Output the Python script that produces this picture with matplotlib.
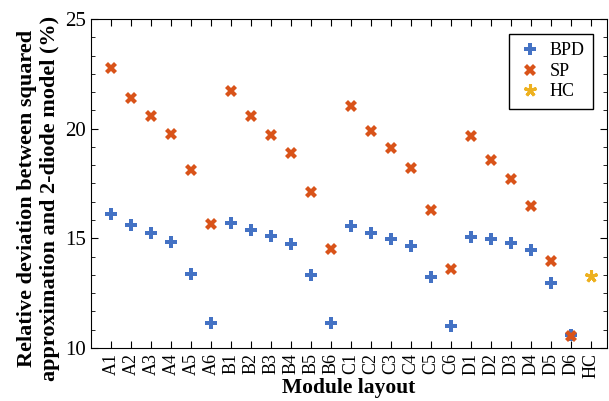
import numpy as np
import matplotlib
matplotlib.use("Agg")
import matplotlib.pyplot as plt
from matplotlib.ticker import MultipleLocator

plt.rcParams['font.family'] = ['Liberation Serif', 'DejaVu Serif']

layouts = ['A1', 'A2', 'A3', 'A4', 'A5', 'A6',
           'B1', 'B2', 'B3', 'B4', 'B5', 'B6',
           'C1', 'C2', 'C3', 'C4', 'C5', 'C6',
           'D1', 'D2', 'D3', 'D4', 'D5', 'D6', 'HC']

bpd = [16.12, 15.59, 15.26, 14.83, 13.36, 11.12,
       15.71, 15.36, 15.12, 14.73, 13.34, 11.12,
       15.56, 15.24, 14.98, 14.65, 13.22, 11.00,
       15.07, 14.98, 14.77, 14.47, 12.95, 10.59]
sp = [22.75, 21.38, 20.58, 19.76, 18.10, 15.65,
      21.70, 20.56, 19.72, 18.87, 17.10, 14.51,
      21.03, 19.91, 19.10, 18.21, 16.30, 13.59,
      19.68, 18.59, 17.69, 16.49, 13.96, 10.54]
hc = [13.28]

c_bpd = '#4472C4'
c_sp = '#D95319'
c_hc = '#EDB120'

fig = plt.figure(figsize=(6.09, 4.01), dpi=100)
ax = fig.add_axes([91/609, 1 - 348/401, (607 - 91)/609, (348 - 19)/401])

x = np.arange(1, len(layouts) + 1)
ax.plot(x[:len(bpd)], bpd, linestyle='none', marker='P', markersize=9,
        color=c_bpd, markeredgewidth=0, label='BPD')
ax.plot(x[:len(sp)], sp, linestyle='none', marker='X', markersize=8.5,
        color=c_sp, markeredgewidth=0, label='SP')
# asterisk like matlab's '*'
ax.plot(x[-1:], hc, linestyle='none', marker=(5, 2, 0), markersize=9,
        color=c_hc, markeredgewidth=2.2, label='HC')

ax.set_xlim(0, 25.8)
ax.set_ylim(10, 25)
ax.set_xticks(x)
ax.set_xticklabels(layouts, rotation=90, fontsize=13)
ax.set_yticks([10, 15, 20, 25])
ax.yaxis.set_minor_locator(MultipleLocator(5 / 6))
ax.tick_params(axis='y', labelsize=15)
ax.tick_params(which='both', direction='in', top=True, right=True)
ax.tick_params(which='major', length=5)
ax.tick_params(which='minor', length=3)

ax.set_xlabel('Module layout', fontsize=15.5, fontweight='bold', labelpad=0)
ax.set_ylabel('Relative deviation between squared\napproximation and 2-diode model (%)',
              fontsize=16, fontweight='bold', linespacing=1.2)
ax.yaxis.set_label_coords(-0.06, 0.455)

leg = ax.legend(loc='upper right', fontsize=13, fancybox=False, framealpha=1,
                edgecolor='black', handletextpad=0.4, borderpad=0.45,
                labelspacing=0.2, handlelength=1.4, borderaxespad=0,
                bbox_to_anchor=(0.973, 0.954))
leg.get_frame().set_linewidth(1.0)

fig.savefig('out.png', dpi=100)
